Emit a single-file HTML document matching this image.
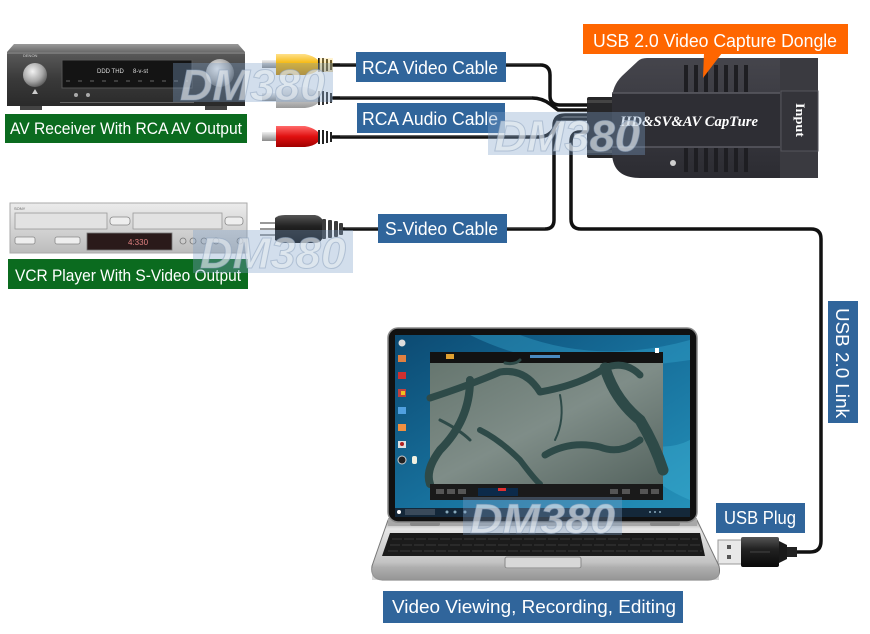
<!DOCTYPE html>
<html><head><meta charset="utf-8"><style>
html,body{margin:0;padding:0;background:#fff;}
svg{display:block;}
.s{font-family:"Liberation Sans",Arial,sans-serif;}
.sf{font-family:"Liberation Serif","DejaVu Serif",serif;}
</style></head><body>
<svg width="870" height="634" viewBox="0 0 870 634" xmlns="http://www.w3.org/2000/svg">
<defs>
<linearGradient id="recFront" x1="0" y1="0" x2="0" y2="1"><stop offset="0" stop-color="#5a5a5a"/><stop offset="0.5" stop-color="#3a3a3a"/><stop offset="1" stop-color="#2a2a2a"/></linearGradient>
<linearGradient id="recTop" x1="0" y1="0" x2="0" y2="1"><stop offset="0" stop-color="#9a9a9a"/><stop offset="1" stop-color="#6a6a6a"/></linearGradient>
<radialGradient id="knob" cx="0.4" cy="0.35" r="0.7"><stop offset="0" stop-color="#f2f2f2"/><stop offset="0.6" stop-color="#a8a8a8"/><stop offset="1" stop-color="#555"/></radialGradient>
<linearGradient id="vcr" x1="0" y1="0" x2="0" y2="1"><stop offset="0" stop-color="#ececec"/><stop offset="0.5" stop-color="#d4d4d4"/><stop offset="1" stop-color="#bcbcbc"/></linearGradient>
<linearGradient id="yel" x1="0" y1="0" x2="0" y2="1"><stop offset="0" stop-color="#ffe08a"/><stop offset="0.5" stop-color="#f4b400"/><stop offset="1" stop-color="#c88a00"/></linearGradient>
<linearGradient id="wht" x1="0" y1="0" x2="0" y2="1"><stop offset="0" stop-color="#f4f4f4"/><stop offset="0.5" stop-color="#cfcfcf"/><stop offset="1" stop-color="#9a9a9a"/></linearGradient>
<linearGradient id="red" x1="0" y1="0" x2="0" y2="1"><stop offset="0" stop-color="#ff6a6a"/><stop offset="0.5" stop-color="#e01010"/><stop offset="1" stop-color="#a00000"/></linearGradient>
<linearGradient id="pin" x1="0" y1="0" x2="0" y2="1"><stop offset="0" stop-color="#f0f0f0"/><stop offset="1" stop-color="#8a8a8a"/></linearGradient>
<linearGradient id="blk" x1="0" y1="0" x2="0" y2="1"><stop offset="0" stop-color="#555"/><stop offset="0.4" stop-color="#222"/><stop offset="1" stop-color="#0a0a0a"/></linearGradient>
<linearGradient id="dongle" x1="0" y1="0" x2="0" y2="1"><stop offset="0" stop-color="#45454c"/><stop offset="1" stop-color="#2c2c32"/></linearGradient>
<linearGradient id="desk" x1="0" y1="0" x2="1" y2="1"><stop offset="0" stop-color="#0c4a72"/><stop offset="0.5" stop-color="#17709c"/><stop offset="1" stop-color="#2592ba"/></linearGradient>
<linearGradient id="base" x1="0" y1="0" x2="0" y2="1"><stop offset="0" stop-color="#9a9a9a"/><stop offset="0.15" stop-color="#e6e6e6"/><stop offset="0.7" stop-color="#c4c4c4"/><stop offset="1" stop-color="#7a7a7a"/></linearGradient>
<linearGradient id="vid" x1="0" y1="0" x2="1" y2="1"><stop offset="0" stop-color="#66766f"/><stop offset="0.5" stop-color="#7f8d88"/><stop offset="1" stop-color="#55645f"/></linearGradient>
</defs>
<rect width="870" height="634" fill="#fff"/>

<!-- ===== AV receiver ===== -->
<polygon points="14,44 238,44 245,52 7,52" fill="url(#recTop)"/>
<rect x="7" y="52" width="238" height="54" fill="url(#recFront)"/>
<rect x="7" y="52" width="238" height="2" fill="#777"/>
<rect x="62" y="60" width="130" height="28" fill="#141414" stroke="#555" stroke-width="1"/>
<text class="s" x="97" y="73" font-size="6" fill="#ddd">DDD THD</text>
<text class="s" x="133" y="73" font-size="6" fill="#ddd">8-v-st</text>
<line x1="66" y1="81" x2="188" y2="81" stroke="#666" stroke-width="1" stroke-dasharray="4,8"/>
<text class="s" x="23" y="57" font-size="4" fill="#ccc">DENON</text>
<circle cx="35" cy="75" r="12" fill="url(#knob)"/>
<circle cx="220" cy="73" r="14" fill="url(#knob)"/>
<polygon points="35,89 32,94 38,94" fill="#ccc"/>
<circle cx="76" cy="95" r="2" fill="#aaa"/><circle cx="88" cy="95" r="2" fill="#aaa"/>
<rect x="60" y="102" width="134" height="1" fill="#666"/>
<rect x="20" y="106" width="22" height="4" fill="#444"/><rect x="205" y="106" width="22" height="4" fill="#444"/>

<!-- green label 1 -->
<rect x="5" y="114" width="242" height="29" fill="#0b6b1f"/>
<text class="s" x="10" y="134" font-size="17" fill="#fff" textLength="232" lengthAdjust="spacingAndGlyphs">AV Receiver With RCA AV Output</text>

<!-- ===== VCR ===== -->
<rect x="10" y="203" width="237" height="50" fill="url(#vcr)" stroke="#aaa" stroke-width="1"/>
<rect x="15" y="213" width="92" height="16" fill="#e2e2e2" stroke="#999" stroke-width="0.8"/>
<rect x="110" y="217" width="20" height="8" rx="3" fill="#eee" stroke="#888" stroke-width="0.8"/>
<rect x="133" y="213" width="89" height="16" fill="#e2e2e2" stroke="#999" stroke-width="0.8"/>
<rect x="225" y="217" width="18" height="8" rx="3" fill="#eee" stroke="#888" stroke-width="0.8"/>
<text class="s" x="14" y="210" font-size="4" fill="#666">SONY</text>
<rect x="15" y="237" width="20" height="7" rx="2" fill="#eee" stroke="#888" stroke-width="0.8"/>
<rect x="55" y="237" width="25" height="7" rx="2" fill="#eee" stroke="#888" stroke-width="0.8"/>
<rect x="87" y="233" width="85" height="17" fill="#2a1a1a" stroke="#777" stroke-width="0.8"/>
<text class="s" x="128" y="245" font-size="8" fill="#e08080">4:330</text>
<circle cx="183" cy="241" r="3" fill="#ccc" stroke="#777" stroke-width="0.8"/>
<circle cx="193" cy="241" r="3" fill="#ccc" stroke="#777" stroke-width="0.8"/>
<circle cx="204" cy="241" r="3" fill="#ccc" stroke="#777" stroke-width="0.8"/>
<circle cx="216" cy="241" r="3" fill="#ccc" stroke="#777" stroke-width="0.8"/>
<circle cx="240" cy="241" r="3" fill="#ccc" stroke="#777" stroke-width="0.8"/>

<!-- green label 2 -->
<rect x="8" y="259" width="240" height="30" fill="#0b6b1f"/>
<text class="s" x="15" y="281" font-size="17" fill="#fff" textLength="226" lengthAdjust="spacingAndGlyphs">VCR Player With S-Video Output</text>

<!-- ===== Cables ===== -->
<g fill="none" stroke="#111" stroke-width="3.5" stroke-linecap="round" stroke-linejoin="round">
<path d="M333 65 H540 Q550 65 550 75 V96 Q550 105 560 105 H590"/>
<path d="M333 98 H532 Q542 98 550 104 L558 110 H590"/>
<path d="M333 137 H538 Q548 137 553 130 L560 119 H590"/>
<path d="M343 229 H545 Q554 229 554 220 V126 Q554 115 565 115 H590"/>
<path d="M590 132 H580 Q571 132 571 142 V219 Q571 229 581 229 H811 Q821 229 821 239 V541 Q821 552 810 552 H795"/>
</g>
<g fill="none" stroke="#666" stroke-width="0.8" opacity="0.7">
<path d="M340 64 H540"/><path d="M340 97 H532"/><path d="M340 136 H538"/><path d="M345 228 H545"/>
</g>

<!-- RCA plugs -->
<g>
<rect x="262" y="60" width="16" height="8" fill="url(#pin)"/>
<path d="M276 54 H305 Q314 56 318 60 V70 Q314 74 305 75 H276 Z" fill="url(#yel)"/>
<g fill="#222"><rect x="318" y="58" width="2" height="14"/><rect x="322" y="58" width="2" height="14"/><rect x="326" y="59" width="2" height="12"/><rect x="330" y="60" width="2" height="10"/></g>
<rect x="319" y="58" width="14" height="14" fill="url(#yel)" opacity="0.35"/>

<rect x="262" y="93" width="16" height="8" fill="url(#pin)"/>
<path d="M276 87 H305 Q314 89 318 93 V103 Q314 107 305 108 H276 Z" fill="url(#wht)"/>
<g fill="#333"><rect x="318" y="91" width="2" height="14"/><rect x="322" y="91" width="2" height="14"/><rect x="326" y="92" width="2" height="12"/><rect x="330" y="93" width="2" height="10"/></g>

<rect x="262" y="132" width="16" height="9" fill="url(#pin)"/>
<path d="M276 126 H305 Q314 128 318 132 V142 Q314 146 305 147 H276 Z" fill="url(#red)"/>
<g fill="#222"><rect x="318" y="130" width="2" height="14"/><rect x="322" y="130" width="2" height="14"/><rect x="326" y="131" width="2" height="12"/><rect x="330" y="132" width="2" height="10"/></g>
</g>

<!-- S-Video plug -->
<g>
<rect x="260" y="222" width="16" height="2" fill="#999"/>
<rect x="260" y="228" width="16" height="2" fill="#999"/>
<rect x="260" y="234" width="16" height="2" fill="#999"/>
<path d="M275 218 Q278 215 285 215 H315 Q320 216 322 219 V239 Q320 243 315 243 H285 Q278 243 275 240 Z" fill="url(#blk)"/>
<g fill="#3a3a3a"><rect x="322" y="219" width="4" height="20" rx="1"/><rect x="328" y="220" width="4" height="18" rx="1"/><rect x="334" y="221" width="4" height="16" rx="1"/><rect x="339" y="223" width="4" height="12" rx="1"/></g>
</g>

<!-- ===== Dongle ===== -->
<rect x="587" y="97" width="27" height="61" rx="2" fill="#262628"/>
<rect x="587" y="100" width="27" height="3" fill="#444"/>
<rect x="587" y="150" width="27" height="3" fill="#444"/>
<path d="M612 100 Q612 86 622 76 L638 61 Q641 58 647 58 H812 Q818 58 818 64 V172 Q818 178 812 178 H640 Q612 178 612 152 Z" fill="url(#dongle)"/>
<rect x="612" y="93" width="168" height="54" fill="#2e2e34"/>
<line x1="612" y1="93" x2="780" y2="93" stroke="#5a5a62" stroke-width="1.5"/>
<line x1="612" y1="147" x2="780" y2="147" stroke="#5a5a62" stroke-width="1.5"/>
<rect x="780" y="58" width="38" height="120" fill="#3a3a40"/>
<rect x="781" y="91" width="37" height="60" fill="#34343a" stroke="#55555c" stroke-width="1"/>
<g fill="#1e1e22">
<rect x="684" y="65" width="4" height="27"/><rect x="694" y="65" width="4" height="27"/><rect x="704" y="65" width="4" height="27"/><rect x="714" y="65" width="4" height="27"/><rect x="724" y="65" width="4" height="27"/><rect x="734" y="65" width="4" height="27"/><rect x="744" y="65" width="4" height="27"/>
<rect x="684" y="148" width="4" height="24"/><rect x="694" y="148" width="4" height="24"/><rect x="704" y="148" width="4" height="24"/><rect x="714" y="148" width="4" height="24"/><rect x="724" y="148" width="4" height="24"/><rect x="734" y="148" width="4" height="24"/><rect x="744" y="148" width="4" height="24"/>
</g>
<circle cx="673" cy="163" r="3" fill="#cfcfcf"/>
<text class="sf" x="620" y="126" font-style="italic" font-weight="bold" font-size="15" fill="#fff" textLength="138" lengthAdjust="spacingAndGlyphs">HD&amp;SV&amp;AV  CapTure</text>
<text class="sf" transform="translate(796,103) rotate(90)" font-weight="bold" font-size="13" fill="#fff" textLength="34" lengthAdjust="spacingAndGlyphs">Input</text>

<!-- orange callout -->
<rect x="583" y="24" width="265" height="30" fill="#ff6600"/>
<polygon points="704,53 722,53 703,78" fill="#ff6600"/>
<text class="s" x="593" y="47" font-size="18" fill="#fff" textLength="244" lengthAdjust="spacingAndGlyphs">USB 2.0 Video Capture Dongle</text>

<!-- blue labels -->
<rect x="356" y="52" width="150" height="30" fill="#30659b"/>
<text class="s" x="362" y="74" font-size="18" fill="#fff" textLength="136" lengthAdjust="spacingAndGlyphs">RCA Video Cable</text>
<rect x="357" y="103" width="148" height="30" fill="#30659b"/>
<text class="s" x="362" y="125" font-size="18" fill="#fff" textLength="136" lengthAdjust="spacingAndGlyphs">RCA Audio Cable</text>
<rect x="378" y="214" width="129" height="29" fill="#30659b"/>
<text class="s" x="385" y="235" font-size="18" fill="#fff" textLength="113" lengthAdjust="spacingAndGlyphs">S-Video Cable</text>

<rect x="828" y="301" width="30" height="122" fill="#30659b"/>
<text class="s" transform="translate(836,308) rotate(90)" font-size="18" fill="#fff" textLength="110" lengthAdjust="spacingAndGlyphs">USB 2.0 Link</text>

<rect x="716" y="503" width="89" height="30" fill="#30659b"/>
<text class="s" x="724" y="524" font-size="18" fill="#fff" textLength="72" lengthAdjust="spacingAndGlyphs">USB Plug</text>

<!-- USB plug -->
<rect x="718" y="540" width="24" height="24" fill="#e8e8e8" stroke="#999" stroke-width="1"/>
<rect x="727" y="545" width="4" height="4" fill="#555"/><rect x="727" y="555" width="4" height="4" fill="#555"/>
<rect x="741" y="537" width="38" height="30" rx="2" fill="url(#blk)"/>
<path d="M779 541 L787 545 V559 L779 563 Z" fill="#1a1a1a"/>
<rect x="787" y="547" width="10" height="10" fill="#222"/>
<line x1="750" y1="552" x2="770" y2="552" stroke="#444" stroke-width="1"/>

<!-- ===== Laptop ===== -->
<path d="M388 520 L372 566 Q370 580 384 580 H708 Q722 580 719 566 L697 520 Z" fill="url(#base)" stroke="#777" stroke-width="1"/>
<rect x="388" y="518" width="309" height="8" fill="#a8a8a8"/>
<polygon points="390,533 700,533 705,556 382,556" fill="#1b1b1b"/>
<g stroke="#444" stroke-width="0.8">
<line x1="392" y1="539" x2="698" y2="539" stroke-dasharray="10,2"/>
<line x1="390" y1="545" x2="700" y2="545" stroke-dasharray="10,2"/>
<line x1="388" y1="551" x2="702" y2="551" stroke-dasharray="10,2"/>
</g>
<rect x="505" y="557" width="76" height="11" rx="2" fill="#d8d8d8" stroke="#888" stroke-width="1"/>
<rect x="372" y="568" width="347" height="12" fill="#b0b0b0" opacity="0.5"/>
<rect x="410" y="522" width="30" height="4" rx="2" fill="#888"/>
<rect x="650" y="522" width="30" height="4" rx="2" fill="#888"/>

<rect x="388" y="328" width="309" height="194" rx="10" fill="#111" stroke="#8a8a8a" stroke-width="1.5"/>
<rect x="395" y="335" width="295" height="182" fill="url(#desk)"/>
<path d="M470 335 Q560 380 690 360 V340 Q600 365 520 335 Z" fill="#3ab0d8" opacity="0.35"/>
<path d="M600 420 Q650 460 690 440 V500 Q640 480 600 420 Z" fill="#4ac0e0" opacity="0.3"/>
<!-- icons -->
<g>
<circle cx="402" cy="343" r="3.5" fill="#ddd"/>
<rect x="398" y="355" width="8" height="7" fill="#e08040"/>
<rect x="398" y="372" width="8" height="7" fill="#d03030"/>
<rect x="398" y="389" width="8" height="8" fill="#c04040"/><rect x="401" y="391" width="4" height="4" fill="#f0c020"/>
<rect x="398" y="407" width="8" height="7" fill="#50a0e0"/>
<rect x="398" y="424" width="8" height="7" fill="#f09040"/>
<rect x="398" y="441" width="8" height="7" fill="#e0e0e0"/><circle cx="402" cy="444" r="2" fill="#b02020"/>
<circle cx="402" cy="460" r="4" fill="#222" stroke="#ccc" stroke-width="1"/>
<rect x="412" y="456" width="5" height="8" rx="2" fill="#f0f0e0"/>
</g>
<!-- player window -->
<rect x="430" y="352" width="233" height="148" fill="#121212"/>
<rect x="430" y="363" width="233" height="121" fill="url(#vid)"/>
<g fill="none" stroke="#2e4a48" stroke-linecap="round" stroke-linejoin="round">
<path d="M430 398 Q470 385 500 372 Q525 368 540 392 Q580 385 605 368 Q625 360 640 375" stroke-width="7"/>
<path d="M605 368 Q615 400 640 420 Q655 445 663 470" stroke-width="11"/>
<path d="M470 380 Q470 420 440 450 Q425 470 430 484" stroke-width="8"/>
<path d="M480 430 Q500 440 520 460 Q535 480 540 484" stroke-width="6"/>
<path d="M545 455 Q570 440 600 447 Q620 455 640 440" stroke-width="7"/>
<path d="M520 360 Q515 365 505 363" stroke-width="3"/>
<path d="M440 420 Q460 430 470 440" stroke-width="3"/>
<path d="M560 395 Q565 420 555 440" stroke-width="2"/>
</g>
<rect x="430" y="484" width="233" height="16" fill="#1a1a1a"/>
<g fill="#555"><rect x="436" y="489" width="8" height="5"/><rect x="447" y="489" width="8" height="5"/><rect x="458" y="489" width="8" height="5"/><rect x="610" y="489" width="8" height="5"/><rect x="622" y="489" width="8" height="5"/><rect x="640" y="489" width="8" height="5"/><rect x="651" y="489" width="8" height="5"/></g>
<rect x="478" y="488" width="40" height="8" fill="#0c2a4a"/>
<rect x="498" y="488" width="8" height="3" fill="#e03030"/>
<rect x="446" y="354" width="8" height="5" fill="#e0a030"/>
<rect x="530" y="355" width="30" height="3" fill="#4a8ac0"/>
<rect x="655" y="348" width="4" height="5" fill="#fff"/>
<!-- taskbar -->
<rect x="395" y="508" width="295" height="9" fill="#14283a"/>
<circle cx="399" cy="512" r="2" fill="#fff"/>
<rect x="405" y="509" width="30" height="6" fill="#3a4a5a"/>
<g fill="#8ab"><circle cx="447" cy="512" r="1.5"/><circle cx="455" cy="512" r="1.5"/><circle cx="465" cy="512" r="1.5"/><circle cx="650" cy="512" r="1"/><circle cx="655" cy="512" r="1"/><circle cx="660" cy="512" r="1"/></g>

<!-- bottom label -->
<rect x="383" y="591" width="300" height="32" fill="#30659b"/>
<text class="s" x="392" y="613" font-size="18" fill="#fff" textLength="284" lengthAdjust="spacingAndGlyphs">Video Viewing, Recording, Editing</text>

<!-- ===== watermarks ===== -->
<g class="s">
<rect x="173" y="63" width="160" height="39" fill="#7ea0c8" opacity="0.35"/>
<text class="s" x="180" y="100" font-size="44" font-weight="bold" font-style="italic" fill="#e4e9ef" fill-opacity="0.65" stroke="#8aa0bc" stroke-opacity="0.5" stroke-width="1" textLength="145" lengthAdjust="spacingAndGlyphs">DM380</text>
<rect x="488" y="112" width="157" height="43" fill="#7ea0c8" opacity="0.35"/>
<text class="s" x="494" y="151" font-size="44" font-weight="bold" font-style="italic" fill="#e4e9ef" fill-opacity="0.65" stroke="#8aa0bc" stroke-opacity="0.5" stroke-width="1" textLength="146" lengthAdjust="spacingAndGlyphs">DM380</text>
<rect x="193" y="230" width="160" height="43" fill="#7ea0c8" opacity="0.35"/>
<text class="s" x="200" y="268" font-size="44" font-weight="bold" font-style="italic" fill="#e4e9ef" fill-opacity="0.65" stroke="#8aa0bc" stroke-opacity="0.5" stroke-width="1" textLength="146" lengthAdjust="spacingAndGlyphs">DM380</text>
<rect x="463" y="497" width="159" height="38" fill="#7ea0c8" opacity="0.35"/>
<text class="s" x="470" y="533" font-size="42" font-weight="bold" font-style="italic" fill="#e4e9ef" fill-opacity="0.65" stroke="#8aa0bc" stroke-opacity="0.5" stroke-width="1" textLength="145" lengthAdjust="spacingAndGlyphs">DM380</text>
</g>
</svg>
</body></html>
